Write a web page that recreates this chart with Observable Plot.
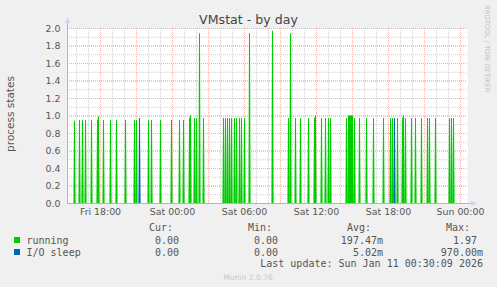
<!DOCTYPE html>
<html><head><meta charset="utf-8">
<script src="https://cdn.jsdelivr.net/npm/d3@7"></script>
<script src="https://cdn.jsdelivr.net/npm/@observablehq/plot@0.6"></script>
<style>
html,body{margin:0;padding:0;background:#F0F0F0;}
#chart svg{display:block}
</style></head><body><div id="chart"></div>
<script>
// ---- data (UTC timestamps, 5-minute samples) ----
const rangeStart = "2026-01-09T15:15";
const rangeEnd   = "2026-01-11T00:35";

const runningTimes = [
  "2026-01-09T15:50","2026-01-09T16:15","2026-01-09T16:30","2026-01-09T16:45","2026-01-09T17:15",
  "2026-01-09T17:45","2026-01-09T17:50","2026-01-09T18:15","2026-01-09T18:50","2026-01-09T19:20",
  "2026-01-09T20:05","2026-01-09T20:50","2026-01-09T21:00","2026-01-09T22:00","2026-01-09T22:15",
  "2026-01-09T23:00","2026-01-09T23:55","2026-01-10T00:35","2026-01-10T00:55","2026-01-10T01:25",
  "2026-01-10T01:30","2026-01-10T01:50","2026-01-10T02:00","2026-01-10T02:15","2026-01-10T02:35",
  "2026-01-10T04:15","2026-01-10T04:25","2026-01-10T04:35","2026-01-10T04:45","2026-01-10T04:55",
  "2026-01-10T05:10","2026-01-10T05:20","2026-01-10T05:35","2026-01-10T05:45","2026-01-10T06:00",
  "2026-01-10T06:25","2026-01-10T08:20","2026-01-10T09:40","2026-01-10T09:50","2026-01-10T10:15",
  "2026-01-10T10:40","2026-01-10T11:20","2026-01-10T11:50","2026-01-10T11:55","2026-01-10T12:25",
  "2026-01-10T12:45","2026-01-10T13:00","2026-01-10T13:10","2026-01-10T14:30","2026-01-10T14:40",
  "2026-01-10T14:45","2026-01-10T14:50","2026-01-10T14:55","2026-01-10T15:00","2026-01-10T15:10",
  "2026-01-10T15:35","2026-01-10T16:10","2026-01-10T16:45","2026-01-10T17:35","2026-01-10T18:10",
  "2026-01-10T18:20","2026-01-10T18:45","2026-01-10T19:10","2026-01-10T19:15","2026-01-10T19:25",
  "2026-01-10T19:55","2026-01-10T20:15","2026-01-10T20:45","2026-01-10T21:15","2026-01-10T21:25",
  "2026-01-10T21:55","2026-01-10T23:05","2026-01-10T23:15","2026-01-10T23:25"
];
const runningValues = [
  0.94,0.95,0.95,0.95,0.95,
  0.95,0.99,0.95,0.95,0.95,
  0.95,0.95,0.95,0.95,0.95,
  0.95,0.95,0.95,0.95,0.97,
  1.00,0.97,0.97,1.94,0.97,
  0.97,0.97,0.97,0.97,0.97,
  0.97,0.97,0.97,0.97,0.97,
  1.94,1.97,0.97,1.94,0.97,
  0.97,0.97,0.97,1.00,0.97,
  0.97,0.97,0.97,0.97,1.00,
  1.00,1.00,1.00,1.00,0.97,
  0.97,0.97,0.97,0.97,0.97,
  0.97,0.97,0.97,1.00,0.97,
  0.97,0.97,0.97,0.97,0.97,
  0.97,0.97,0.97,0.97
];
const ioTimes  = ["2026-01-09T21:15","2026-01-10T18:30"];
const ioValues = [0.97, 0.97];

const xTickTimes  = ["2026-01-09T18:00","2026-01-10T00:00","2026-01-10T06:00","2026-01-10T12:00","2026-01-10T18:00","2026-01-11T00:00"];
const xTickLabels = ["Fri 18:00","Sat 00:00","Sat 06:00","Sat 12:00","Sat 18:00","Sun 00:00"];
const yTickValues = [0,0.2,0.4,0.6,0.8,1.0,1.2,1.4,1.6,1.8,2.0];
const yTickLabels = ["0.0","0.2","0.4","0.6","0.8","1.0","1.2","1.4","1.6","1.8","2.0"];

const legendNames  = ["running","I/O sleep"];
const legendColors = ["#00CC00","#0066B3"];
const legendCur = ["0.00","0.00"];
const legendMin = ["0.00","0.00"];
const legendAvg = ["197.47m","5.02m"];
const legendMax = ["1.97","970.00m"];
const lastUpdate = "Last update: Sun Jan 11 00:30:09 2026";

// ---- build ----
const P = s => new Date(s + "Z");
const start = P(rangeStart), end = P(rangeEnd);
function series(times, values) {
  const m = new Map(times.map((t, i) => [+P(t), values[i]]));
  return d3.utcMinute.every(5).range(start, end).map(t => ({t, v: m.get(+t) ?? 0}));
}
const running = series(runningTimes, runningValues);
const io = series(ioTimes, ioValues);
const runningSpikes = running.filter(d => d.v > 0);
const ioSpikes = io.filter(d => d.v > 0);

const hourGrid = d3.utcHour.range(start, end);
const majorX = hourGrid.filter(d => d.getUTCHours() % 3 === 0);
const minorY = d3.range(1, 21).map(i => i / 10);
const majorY = d3.range(1, 11).map(i => i / 5);
const xLab = new Map(xTickTimes.map((t, i) => [+P(t), xTickLabels[i]]));
const yLab = new Map(yTickValues.map((v, i) => [v.toFixed(1), yTickLabels[i]]));
const axisColor = "#A9B3E0";

const plot = Plot.plot({
  width: 497, height: 287,
  marginLeft: 67, marginRight: 30, marginTop: 28, marginBottom: 84,
  style: {background: "transparent", fontFamily: "DejaVu Sans", fontSize: "9.4px", color: "#555"},
  x: {type: "utc", domain: [start, end]},
  y: {domain: [0, 2]},
  marks: [
    Plot.frame({fill: "#fff", stroke: null}),
    Plot.ruleX(hourGrid, {stroke: "#cfcfcf", strokeDasharray: "1,1"}),
    Plot.ruleY(minorY, {stroke: "#cfcfcf", strokeDasharray: "1,1"}),
    Plot.ruleX(majorX, {stroke: "#ebb0b0", strokeDasharray: "1,1"}),
    Plot.ruleY(majorY, {stroke: "#ebb0b0", strokeDasharray: "1,1"}),
    Plot.line(running, {x: "t", y: "v", stroke: legendColors[0], strokeWidth: 1, strokeOpacity: 0.6}),
    Plot.ruleX(runningSpikes, {x: "t", y1: 0, y2: "v", stroke: legendColors[0], strokeWidth: 1}),
    Plot.line(io, {x: "t", y: "v", stroke: legendColors[1], strokeWidth: 1, strokeOpacity: 0.6}),
    Plot.ruleX(ioSpikes, {x: "t", y1: 0, y2: "v", stroke: legendColors[1], strokeWidth: 1}),
    Plot.ruleY([0], {stroke: axisColor}),
    Plot.axisY(yTickValues, {tickSize: 0, tickPadding: 7, label: null, tickFormat: d => yLab.get(d.toFixed(1)), fill: "#555"}),
    Plot.axisX(xTickTimes.map(P), {tickSize: 0, tickPadding: 5, label: null, tickFormat: d => xLab.get(+d), fill: "#555"})
  ]
});
document.getElementById("chart").appendChild(plot);

const svg = d3.select(plot);
const g = svg.append("g");
// axes lines + arrows
g.append("line").attr("x1", 67.5).attr("x2", 67.5).attr("y1", 203).attr("y2", 22).attr("stroke", axisColor);
g.append("path").attr("d", "M64.5,23 L67.5,17 L70.5,23 Z").attr("fill", "#CFD6F8");
g.append("line").attr("x1", 467).attr("x2", 472).attr("y1", 203.5).attr("y2", 203.5).attr("stroke", axisColor);
g.append("path").attr("d", "M471,200.5 L477,203.5 L471,206.5 Z").attr("fill", "#CFD6F8");

// title & side texts
g.append("text").attr("x", 248.5).attr("y", 24).attr("text-anchor", "middle")
  .attr("font-family", "DejaVu Sans").attr("font-size", "12.6px").attr("fill", "#444").text("VMstat - by day");
g.append("text").attr("transform", "translate(484.5,5) rotate(90)").attr("text-anchor", "start")
  .attr("font-family", "DejaVu Sans").attr("font-size", "6.8px").attr("fill", "#c0c0c0").text("RRDTOOL / TOBI OETIKER");
g.append("text").attr("transform", "translate(14,114) rotate(-90)").attr("text-anchor", "middle")
  .attr("font-family", "DejaVu Sans").attr("font-size", "10.5px").attr("fill", "#555").text("process states");

// legend
const mono = (x, y, s, anchor) => g.append("text").attr("x", x).attr("y", y).attr("text-anchor", anchor || "start")
  .attr("font-family", "DejaVu Sans Mono").attr("font-size", "10px").attr("fill", "#555").attr("xml:space", "preserve").text(s);
mono(173, 231, "Cur:", "end");
mono(272, 231, "Min:", "end");
mono(371, 231, "Avg:", "end");
mono(470, 231, "Max:", "end");
const rowsY = [243.5, 255.5];
legendNames.forEach((n, i) => {
  g.append("rect").attr("x", 14).attr("y", rowsY[i] - 6.5).attr("width", 6).attr("height", 6).attr("fill", legendColors[i]);
  mono(26.5, rowsY[i], n);
  mono(179, rowsY[i], legendCur[i], "end");
  mono(278, rowsY[i], legendMin[i], "end");
  mono(383, rowsY[i], legendAvg[i], "end");
  mono(i === 0 ? 477 : 483, rowsY[i], legendMax[i], "end");
});
mono(483, 267, lastUpdate, "end");
g.append("text").attr("x", 248).attr("y", 279.5).attr("text-anchor", "middle")
  .attr("font-family", "DejaVu Sans").attr("font-size", "7.6px").attr("fill", "#c8c8c8").text("Munin 2.0.76");
</script></body></html>
